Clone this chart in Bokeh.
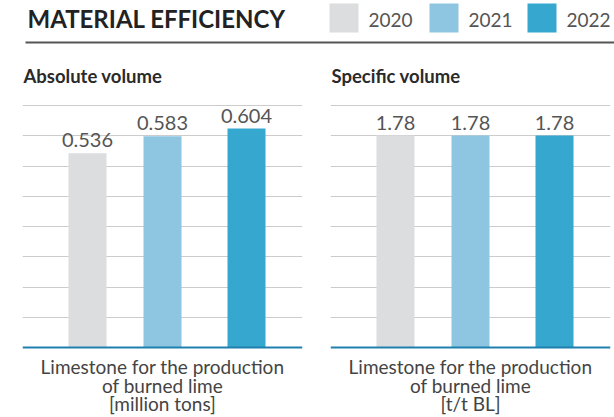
from bokeh.plotting import figure
from bokeh.layouts import column, row
from bokeh.models import Range1d, FixedTicker, Span
from bokeh.core.properties import value
from bokeh.embed import file_html
from bokeh.resources import INLINE

# ---------------- data ----------------
title_text = "MATERIAL EFFICIENCY"
years = ["2020", "2021", "2022"]
colors = ["#dcdddf", "#8ec6e2", "#36a7ce"]
absolute_volume = [0.536, 0.583, 0.604]
absolute_labels = ["0.536", "0.583", "0.604"]
specific_volume = [1.78, 1.78, 1.78]
specific_labels = ["1.78", "1.78", "1.78"]
panel_titles = ["Absolute volume", "Specific volume"]
category_lines = ["Limestone for the production", "of burned lime"]
units = ["[million tons]", "[t/t BL]"]
axis_max = [0.6675, 2.032]   # value of the top grid line
n_grid = 8

# ---------------- layout (pixels) ----------------
FONT = value("Lato")
HEADER_H = 50
PANEL_H = 367
FRAME_H = 242          # baseline to top gridline
TOP_PAD = 55
BOTTOM_PAD = 70
BAR_X = [65, 140, 224]
BAR_W = 38
BASE_REF = 347         # reference row of the baseline


def make_panel(vals, labels, ymax, ptitle, unit, width, left_border, frame_w):
    px = FRAME_H / ymax
    y0 = -BOTTOM_PAD / px
    y1 = ymax + TOP_PAD / px
    p = figure(width=width, height=PANEL_H,
               x_range=Range1d(0, frame_w), y_range=Range1d(y0, y1),
               output_backend="svg", toolbar_location=None,
               x_axis_location=None, y_axis_location=None,
               min_border_left=left_border,
               min_border_right=width - left_border - frame_w,
               min_border_top=0, min_border_bottom=0)
    p.outline_line_color = None
    p.xgrid.visible = False
    p.ygrid.ticker = FixedTicker(ticks=[ymax * i / n_grid for i in range(1, n_grid + 1)])
    p.ygrid.grid_line_color = "#cccccc"
    p.ygrid.grid_line_width = 1

    p.vbar(x=BAR_X, top=vals, width=BAR_W, color=colors, line_color=None)
    p.add_layout(Span(location=0, dimension="width", line_color="#1f80ae", line_width=2))

    p.text(x=BAR_X, y=vals, text=labels, y_offset=-6,
           text_align="center", text_baseline="bottom",
           text_font=FONT, text_font_size="20px", text_color="#555555")

    def ypx(ref_y):
        return (BASE_REF - ref_y) / px

    p.text(x=[1], y=[ypx(75)], text=[ptitle], text_align="left",
           text_baseline="middle", text_font=FONT, text_font_size="18.5px",
           text_font_style="bold", text_color="#2a2a2a")

    lines = category_lines + [unit]
    p.text(x=[frame_w / 2] * 3, y=[ypx(366), ypx(385), ypx(403)], text=lines,
           text_align="center", text_baseline="middle",
           text_font=FONT, text_font_size="19px", text_color="#444444")
    return p


# ---------------- header ----------------
h = figure(width=614, height=HEADER_H, x_range=Range1d(0, 614), y_range=Range1d(HEADER_H, 0),
           output_backend="svg", toolbar_location=None,
           x_axis_location=None, y_axis_location=None,
           min_border_left=0, min_border_right=0, min_border_top=0, min_border_bottom=0)
h.outline_line_color = None
h.grid.visible = False
h.text(x=[27], y=[18], text=[title_text], text_align="left", text_baseline="middle",
       text_font=FONT, text_font_size="24px", text_font_style="bold", text_color="#222222")
h.segment(x0=[25], y0=[42], x1=[614], y1=[42], line_color="#555555", line_width=2)
LEG_X = [329, 429, 527]
h.quad(left=LEG_X, right=[x + 29 for x in LEG_X], top=[3] * 3, bottom=[32] * 3,
       color=colors, line_color=None)
h.text(x=[x + 39 for x in LEG_X], y=[19] * 3, text=years, text_align="left",
       text_baseline="middle", text_font=FONT, text_font_size="19px",
       text_color="#555555")

left = make_panel(absolute_volume, absolute_labels, axis_max[0], panel_titles[0], units[0],
                  width=316, left_border=22, frame_w=280)
right = make_panel(specific_volume, specific_labels, axis_max[1], panel_titles[1], units[1],
                   width=298, left_border=14, frame_w=280)

layout = column(h, row(left, right))
open("out.html", "w").write(file_html(layout, INLINE))
